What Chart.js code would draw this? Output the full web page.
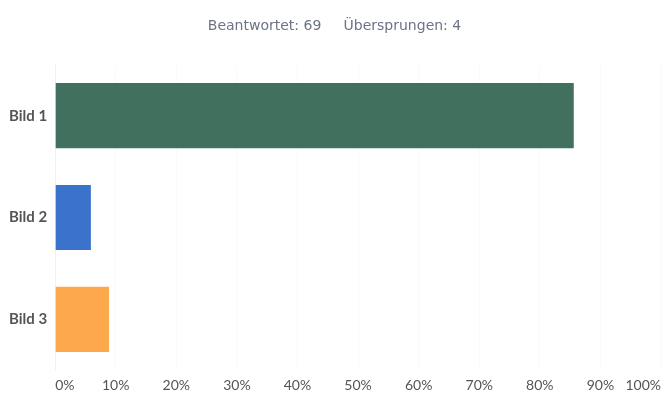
<!DOCTYPE html>
<html>
<head>
<meta charset="utf-8">
<script src="https://cdn.jsdelivr.net/npm/chart.js@4/dist/chart.umd.min.js"></script>
<style>
  html, body { margin: 0; padding: 0; background: #fff; }
  #wrap { width: 668px; height: 401px; }
</style>
</head>
<body>
<div id="wrap"><canvas id="c"></canvas></div>
<script>
// Antworten auf die Frage (Anteil in %)
const kategorien = ['Bild 1', 'Bild 2', 'Bild 3'];
const anteile = [85.6, 5.9, 8.9];
const farben = ['#41705f', '#3b72cc', '#fda84d'];
const titelText = 'Beantwortet: 69     Übersprungen: 4';

const ctx = document.getElementById('c').getContext('2d');
new Chart(ctx, {
  type: 'bar',
  data: {
    labels: kategorien,
    datasets: [{
      data: anteile,
      backgroundColor: farben,
      borderWidth: 0,
      barPercentage: 0.64,
      categoryPercentage: 1.0
    }]
  },
  options: {
    indexAxis: 'y',
    responsive: true,
    maintainAspectRatio: false,
    animation: false,
    layout: { padding: { top: 18, right: 0, bottom: 0, left: 1 } },
    plugins: {
      legend: { display: false },
      tooltip: { enabled: false },
      title: {
        display: true,
        text: titelText,
        color: '#6b7385',
        font: { family: 'DejaVu Sans', size: 14, weight: 'normal' },
        padding: { top: 0, bottom: 30 }
      }
    },
    scales: {
      x: {
        min: 0,
        max: 100,
        ticks: {
          stepSize: 10,
          align: 'inner',
          color: '#555',
          padding: 7,
          font: { family: 'Lato', size: 14 },
          callback: (v) => v + '%'
        },
        grid: { color: 'rgba(0,0,0,0.02)', drawTicks: false },
        border: { display: false }
      },
      y: {
        ticks: {
          color: '#555',
          padding: 8,
          font: { family: 'Lato', size: 15, weight: 'bold' }
        },
        grid: { display: false, drawTicks: false },
        border: { color: 'rgba(0,0,0,0.04)' }
      }
    }
  }
});
</script>
</body>
</html>
